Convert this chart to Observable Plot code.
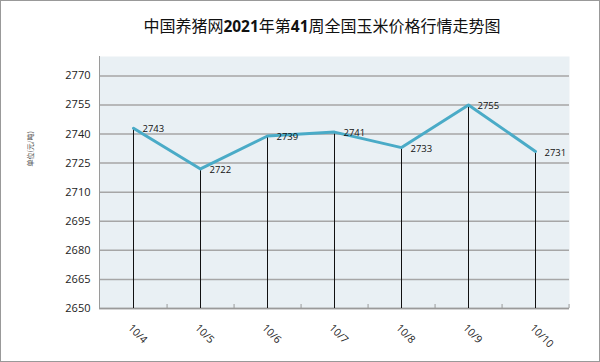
<!DOCTYPE html>
<html>
<head>
<meta charset="utf-8">
<script src="https://cdn.jsdelivr.net/npm/d3@7"></script>
<script src="https://cdn.jsdelivr.net/npm/@observablehq/plot@0.6"></script>
<style>
  html, body { margin: 0; padding: 0; background: #fff; }
  #wrap { position: relative; width: 600px; height: 362px; overflow: hidden; background: #fff; }
  #border { position: absolute; left: 0; top: 0; width: 600px; height: 362px; box-sizing: border-box; border: 1px solid #999; pointer-events: none; }
  #title { height: 46px; width: 644px; text-align: center; box-sizing: border-box; padding-top: 14px;
           font-family: "Noto Sans CJK SC", sans-serif; font-size: 16px; line-height: 22px; color: #111; white-space: nowrap; }
  #title b { font-family: "Open Sans", sans-serif; font-weight: 700; font-size: 15.5px; }
  #chart svg { display: block; }
</style>
</head>
<body>
<div id="wrap">
  <div id="title">中国养猪网<b>2021</b>年第<b>41</b>周全国玉米价格行情走势图</div>
  <div id="chart"></div>
  <div id="border"></div>
</div>
<script>
const categories = ["10/4", "10/5", "10/6", "10/7", "10/8", "10/9", "10/10"];
const prices = [2743, 2722, 2739, 2741, 2733, 2755, 2731];
const yTicks = [2650, 2665, 2680, 2695, 2710, 2725, 2740, 2755, 2770];
const yDomain = [2650, 2780];
const yLabel = "单位(元/吨)";

const data = categories.map((c, i) => ({date: c, price: prices[i]}));

const W = 600, H = 316, mT = 10, mB = 54, mL = 99, mR = 31;
const step = (W - mL - mR) / categories.length;
const frameH = H - mT - mB;

const chart = Plot.plot({
  width: W, height: H,
  marginTop: mT, marginBottom: mB, marginLeft: mL, marginRight: mR,
  x: {type: "point", domain: categories, padding: 0.5, axis: null},
  y: {domain: yDomain, axis: null},
  style: {fontFamily: "'Open Sans', sans-serif", background: "transparent", overflow: "visible"},
  marks: [
    Plot.frame({fill: "#e9f0f4", stroke: null}),
    Plot.gridY(yTicks, {stroke: "#a6a6a6", strokeOpacity: 1, strokeWidth: 1.5}),
    Plot.axisY({ticks: yTicks, tickFormat: d => String(d), tickSize: 0, tickPadding: 9, fontSize: 11, fill: "#222", label: null}),
    Plot.frame({anchor: "left", stroke: "#9a9a9a"}),
    Plot.ruleY([yDomain[0]], {stroke: "#9a9a9a", strokeWidth: 1.5}),
    Plot.tickX(categories, {x: d => d, dx: step / 2, insetTop: frameH - 4, stroke: "#9a9a9a"}),
    Plot.ruleX(data, {x: "date", y1: yDomain[0], y2: "price", stroke: "#111", strokeWidth: 1}),
    Plot.line(data, {x: "date", y: "price", stroke: "#4aabc7", strokeWidth: 3}),
    Plot.text(data, {x: "date", y: "price", text: d => String(d.price), dx: 9, dy: 1, textAnchor: "start", fontSize: 9.5, fill: "#111"}),
    Plot.text(categories, {x: d => d, frameAnchor: "bottom", text: d => d, rotate: 45, textAnchor: "start", lineAnchor: "bottom", dx: -6, dy: 20, fontSize: 10.5, fill: "#222"}),
    Plot.text([yLabel], {frameAnchor: "left", text: d => d, dx: -69, dy: -16, rotate: -90, fontSize: 7, fill: "#444", fontFamily: "'Noto Sans CJK SC', sans-serif"})
  ]
});
document.getElementById("chart").appendChild(chart);
</script>
</body>
</html>
